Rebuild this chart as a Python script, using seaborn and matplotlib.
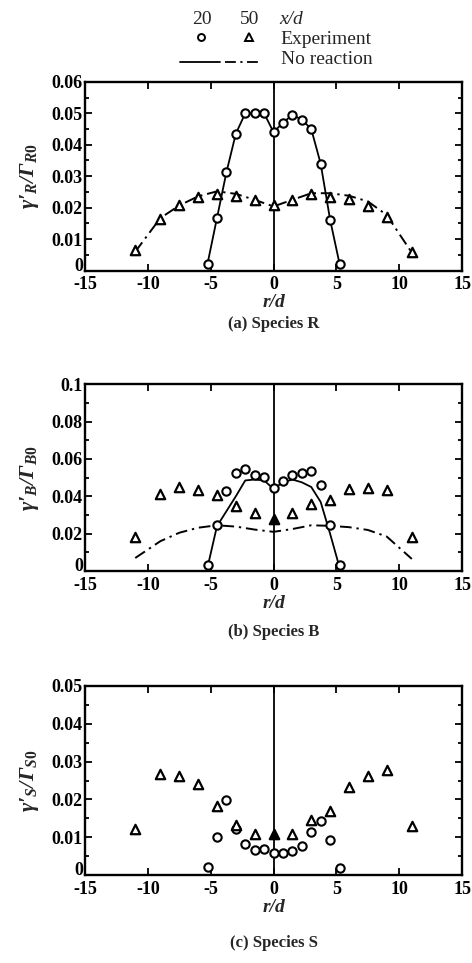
import matplotlib
matplotlib.use("Agg")
import matplotlib.pyplot as plt
from matplotlib.lines import Line2D
from matplotlib.ticker import MultipleLocator, FormatStrFormatter
import numpy as np
import pandas as pd
import seaborn as sns

# ---------------- data ----------------
r20 = [-5.25, -4.5, -3.75, -3.0, -2.25, -1.5, -0.75, 0.0, 0.75, 1.5, 2.25, 3.0, 3.75, 4.5, 5.25]
r50 = [-11, -9, -7.5, -6, -4.5, -3, -1.5, 0, 1.5, 3, 4.5, 6, 7.5, 9, 11]

# Species R
R_exp20 = [0.0022, 0.0167, 0.0312, 0.0435, 0.0500, 0.0502, 0.0502, 0.0440, 0.0470, 0.0495, 0.0480, 0.0450, 0.0340, 0.0162, 0.0022]
R_exp50 = [0.0066, 0.0163, 0.0208, 0.0233, 0.0243, 0.0237, 0.0226, 0.0208, 0.0226, 0.0243, 0.0233, 0.0228, 0.0206, 0.0170, 0.0060]
R_mod20 = [0.0022, 0.0167, 0.0312, 0.0435, 0.0500, 0.0500, 0.0500, 0.0440, 0.0470, 0.0495, 0.0480, 0.0450, 0.0340, 0.0162, 0.0022]
R_mod50 = [0.0060, 0.0167, 0.0207, 0.0236, 0.0252, 0.0244, 0.0225, 0.0204, 0.0225, 0.0246, 0.0246, 0.0238, 0.0220, 0.0177, 0.0057]

# Species B
B_exp20 = [0.0030, 0.0245, 0.0430, 0.0525, 0.0545, 0.0515, 0.0505, 0.0445, 0.0480, 0.0515, 0.0525, 0.0535, 0.0460, 0.0245, 0.0030]
B_exp50 = [0.0180, 0.0415, 0.0448, 0.0435, 0.0405, 0.0350, 0.0310, 0.0280, 0.0310, 0.0360, 0.0380, 0.0440, 0.0445, 0.0435, 0.0180]
B_mod20 = [0.0020, 0.0240, 0.0320, 0.0400, 0.0485, 0.0490, 0.0485, 0.0440, 0.0475, 0.0490, 0.0475, 0.0450, 0.0370, 0.0200, 0.0020]
B_mod50 = [0.0070, 0.0160, 0.0205, 0.0232, 0.0245, 0.0238, 0.0222, 0.0210, 0.0225, 0.0245, 0.0242, 0.0235, 0.0220, 0.0185, 0.0065]

# Species S
S_exp20 = [0.0022, 0.0100, 0.0198, 0.0123, 0.0082, 0.0066, 0.0070, 0.0059, 0.0059, 0.0064, 0.0078, 0.0113, 0.0143, 0.0092, 0.0020]
S_exp50 = [0.0122, 0.0268, 0.0262, 0.0242, 0.0183, 0.0132, 0.0108, 0.0108, 0.0108, 0.0145, 0.0170, 0.0233, 0.0262, 0.0278, 0.0130]

xticks = [-15, -10, -5, 0, 5, 10, 15]
panels = [
    dict(exp20=R_exp20, exp50=R_exp50, mod20=R_mod20, mod50=R_mod50, ymax=0.06, ystep=0.01,
         ylabel="γ′$_{R}$/Γ$_{R0}$", caption="(a) Species R", cap_y=0.664, filled0=False),
    dict(exp20=B_exp20, exp50=B_exp50, mod20=B_mod20, mod50=B_mod50, ymax=0.1, ystep=0.02,
         ylabel="γ′$_{B}$/Γ$_{B0}$", caption="(b) Species B", cap_y=0.344, filled0=True),
    dict(exp20=S_exp20, exp50=S_exp50, mod20=None, mod50=None, ymax=0.05, ystep=0.01,
         ylabel="γ′$_{S}$/Γ$_{S0}$", caption="(c) Species S", cap_y=0.021, filled0=True),
]

# ---------------- style ----------------
sns.set_theme(style="ticks")
plt.rcParams["font.family"] = ["Liberation Serif", "DejaVu Serif"]
plt.rcParams["font.weight"] = "bold"
plt.rcParams["axes.unicode_minus"] = False
plt.rcParams["mathtext.fontset"] = "custom"
plt.rcParams["mathtext.it"] = "Liberation Serif:italic:bold"
plt.rcParams["mathtext.rm"] = "Liberation Serif:bold"
plt.rcParams["mathtext.bf"] = "Liberation Serif:bold"
plt.rcParams["mathtext.default"] = "it"

fig = plt.figure(figsize=(4.72, 9.63), dpi=100)
positions = [
    [0.180, 0.719, 0.799, 0.196],
    [0.180, 0.407, 0.799, 0.194],
    [0.180, 0.091, 0.799, 0.197],
]
dashdot = (0, (6, 2.5, 1.2, 2.5))

for pos, p in zip(positions, panels):
    ax = fig.add_axes(pos)
    if p["mod20"] is not None:
        d20 = pd.DataFrame({"r": r20, "v": p["mod20"]})
        d50 = pd.DataFrame({"r": r50, "v": p["mod50"]})
        sns.lineplot(data=d20, x="r", y="v", ax=ax, color="black", lw=1.3, sort=False, zorder=3)
        sns.lineplot(data=d50, x="r", y="v", ax=ax, color="black", lw=1.4, sort=False,
                     linestyle=dashdot, zorder=3)
    e20 = pd.DataFrame({"r": r20, "v": p["exp20"]})
    e50 = pd.DataFrame({"r": r50, "v": p["exp50"]})
    sns.scatterplot(data=e20, x="r", y="v", ax=ax, marker="o", s=36, facecolor="white",
                    edgecolor="black", linewidth=1.5, zorder=5)
    e50_open = e50 if not p["filled0"] else e50[e50["r"] != 0]
    sns.scatterplot(data=e50_open, x="r", y="v", ax=ax, marker="^", s=46, facecolor="white",
                    edgecolor="black", linewidth=1.6, zorder=5)
    if p["filled0"]:
        sns.scatterplot(data=e50[e50["r"] == 0], x="r", y="v", ax=ax, marker="^", s=46,
                        facecolor="black", edgecolor="black", linewidth=1.6, zorder=6)
    ax.axvline(0, color="black", lw=1.3, zorder=4)

    ax.set_xlim(-15, 15)
    ax.set_ylim(0, p["ymax"])
    ax.set_xticks(xticks)
    ax.yaxis.set_major_locator(MultipleLocator(p["ystep"]))
    ax.yaxis.set_minor_locator(MultipleLocator(p["ystep"] / 2))
    ax.yaxis.set_major_formatter(FormatStrFormatter("%g"))
    ax.tick_params(which="both", direction="in", top=True, right=True, width=1.3, colors="black")
    ax.tick_params(which="major", length=5, labelsize=13)
    ax.tick_params(axis="x", which="major", pad=4)
    ax.tick_params(axis="y", which="major", pad=1.5)
    ax.tick_params(which="minor", length=3)
    fig.canvas.draw()
    for lab in ax.get_xticklabels() + ax.get_yticklabels():
        lab.set_fontweight("bold")
        if lab.get_text() == "0" and lab in ax.get_yticklabels():
            lab.set_verticalalignment("baseline")
    for s in ax.spines.values():
        s.set_linewidth(1.7)
        s.set_color("black")
    ax.set_xlabel("r/d", fontsize=14, fontstyle="italic", fontweight="bold", labelpad=0.8)
    ax.set_ylabel(p["ylabel"], fontsize=16, fontstyle="italic", fontweight="bold", labelpad=8)
    fig.text(pos[0] + pos[2] / 2, p["cap_y"], p["caption"], ha="center", va="center",
             fontsize=12, fontweight="bold")

# ---------------- legend (top) ----------------
fs = 14
fig.text(0.428, 0.980, "20", ha="center", va="center", fontsize=fs, fontweight="normal")
fig.text(0.528, 0.980, "50", ha="center", va="center", fontsize=fs, fontweight="normal")
fig.text(0.591, 0.980, "x/d", ha="left", va="center", fontsize=fs, fontstyle="italic", fontweight="normal")
fig.add_artist(Line2D([0.426], [0.9616], marker="o", ms=5, mfc="white", mec="black", mew=1.4,
                      transform=fig.transFigure))
fig.add_artist(Line2D([0.528], [0.9616], marker="^", ms=5.5, mfc="white", mec="black", mew=1.4,
                      transform=fig.transFigure))
fig.text(0.595, 0.9595, "Experiment", ha="left", va="center", fontsize=fs, fontweight="normal")
fig.add_artist(Line2D([0.381, 0.466], [0.9356, 0.9356], color="black", lw=1.3,
                      transform=fig.transFigure))
fig.add_artist(Line2D([0.477, 0.555], [0.9356, 0.9356], color="black", lw=1.3, linestyle=dashdot,
                      transform=fig.transFigure))
fig.text(0.595, 0.9387, "No reaction", ha="left", va="center", fontsize=fs, fontweight="normal")

fig.savefig("out.png", dpi=100, facecolor="white")
